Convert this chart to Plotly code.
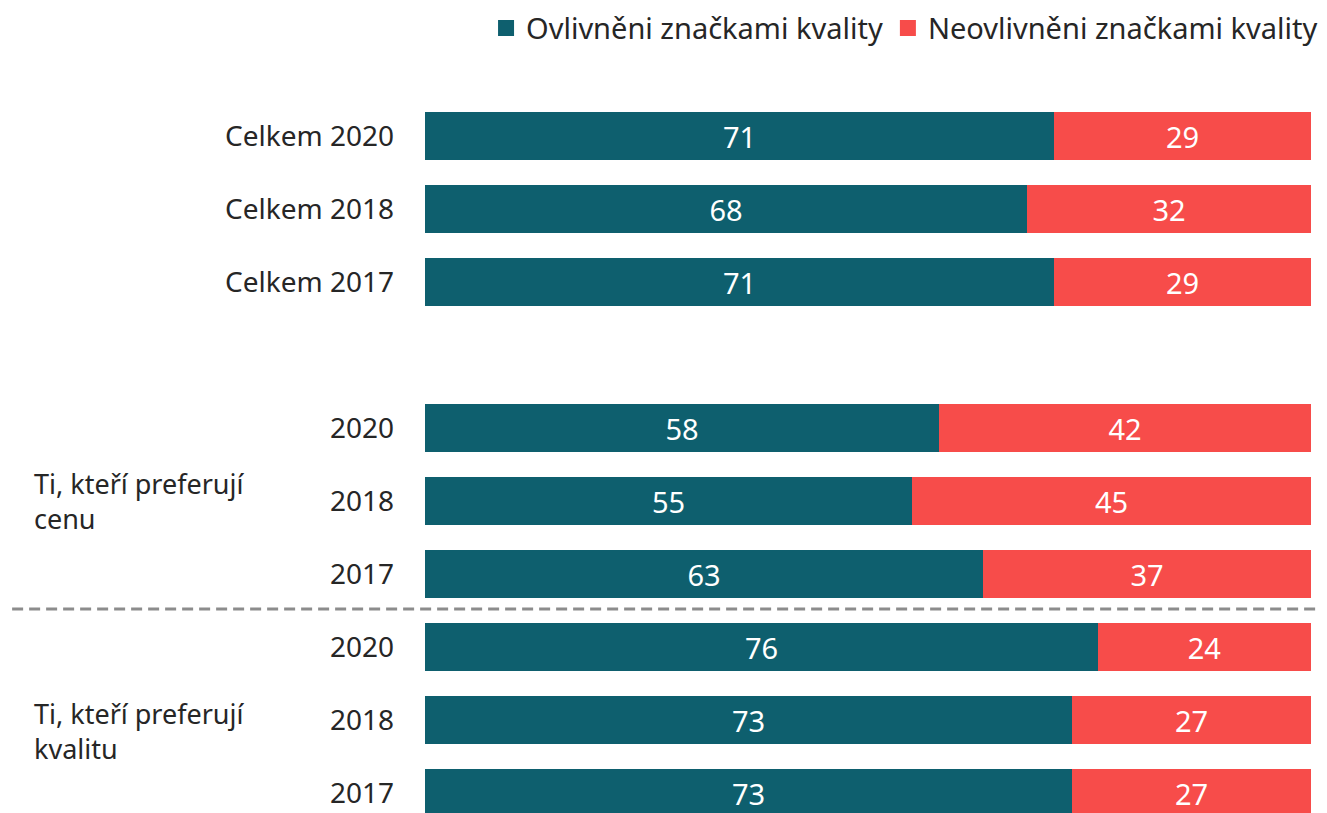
import plotly.graph_objects as go

# rows top to bottom; empty string = spacer row
row_labels = ["Celkem 2020", "Celkem 2018", "Celkem 2017", "",
              "2020", "2018", "2017",
              "2020", "2018", "2017"]
influenced = [71, 68, 71, None, 58, 55, 63, 76, 73, 73]
not_influenced = [29, 32, 29, None, 42, 45, 37, 24, 27, 27]
series_names = ["Ovlivněni značkami kvality", "Neovlivněni značkami kvality"]
group_labels = ["Ti, kteří preferují<br>cenu", "Ti, kteří preferují<br>kvalitu"]

TEAL = "#0E5F6E"
RED = "#F74C4A"
TXT = "#262626"
FONT = "Noto Sans"

ypos = list(range(len(row_labels)))

fig = go.Figure()
for name, vals, col in [(series_names[0], influenced, TEAL),
                        (series_names[1], not_influenced, RED)]:
    fig.add_trace(go.Bar(
        y=ypos, x=vals, name=name, orientation="h",
        marker=dict(color=col, line=dict(width=0)),
        width=0.66, showlegend=False,
        text=[("" if v is None else str(v)) for v in vals],
        textposition="inside", insidetextanchor="middle",
        textfont=dict(color="white", size=29, family=FONT),
        hoverinfo="skip",
    ))
    # legend entry with a bigger square swatch
    fig.add_trace(go.Scatter(
        x=[None], y=[None], mode="markers", name=name,
        marker=dict(symbol="square", size=18, color=col),
    ))

# dashed separator between the two groups
fig.add_shape(type="line", xref="paper", yref="y",
              x0=-0.466, x1=1.0124, y0=6.48, y1=6.48,
              line=dict(color="#8C8C8C", width=3, dash="11px,6px"))

# group labels on the left
for txt, yy in zip(group_labels, [5.0, 8.15]):
    fig.add_annotation(text=txt, xref="paper", yref="y", x=-0.4436, y=yy,
                       xanchor="left", yanchor="middle", align="left",
                       showarrow=False,
                       font=dict(size=27, color=TXT, family=FONT))

# page body adds an 8px margin, so the figure is 8px smaller each way
fig.update_layout(
    width=1319, height=805,
    barmode="stack",
    plot_bgcolor="white", paper_bgcolor="white",
    margin=dict(l=417, r=16, t=80, b=0),
    font=dict(family=FONT, color=TXT),
    bargap=0,
    legend=dict(orientation="h", xref="container", yref="container",
                x=0.997, xanchor="right", y=0.975, yanchor="middle",
                font=dict(size=29, color=TXT, family=FONT),
                traceorder="normal", itemwidth=30, tracegroupgap=0),
    xaxis=dict(range=[0, 100], visible=False, fixedrange=True),
    yaxis=dict(range=[9.274, -0.6575], tickvals=ypos, ticktext=row_labels,
               tickfont=dict(size=28, color=TXT, family=FONT),
               showgrid=False, zeroline=False, showline=False,
               ticks="", ticklabelstandoff=30),
)

fig.write_html("out.html")
